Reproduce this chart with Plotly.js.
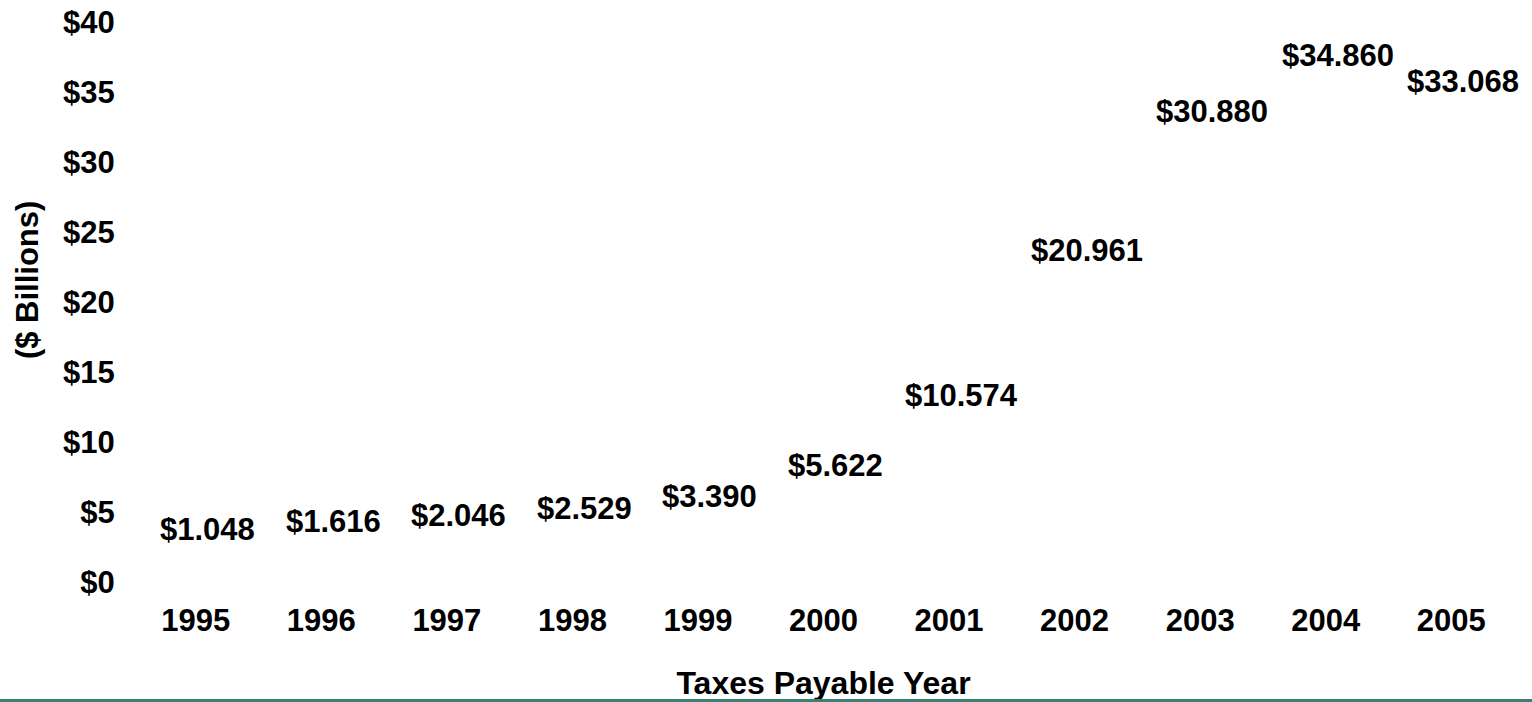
<!DOCTYPE html>
<html>
<head>
<meta charset="utf-8">
<script src="https://cdn.plot.ly/plotly-3.0.1.min.js"></script>
<style>
  html, body { margin: 0; padding: 0; background: #ffffff; }
  #chart { width: 1532px; height: 702px; position: relative; }
  #bottomline { position: absolute; left: 0; top: 699px; width: 1532px; height: 3px; background: #3d7f76; }
</style>
</head>
<body>
<div id="chart"></div>
<div id="bottomline"></div>
<script>
// Data
const years = ['1995','1996','1997','1998','1999','2000','2001','2002','2003','2004','2005'];
const revenue = [1.048, 1.616, 2.046, 2.529, 3.390, 5.622, 10.574, 20.961, 30.880, 34.860, 33.068];
const labels = ['$1.048','$1.616','$2.046','$2.529','$3.390','$5.622','$10.574','$20.961','$30.880','$34.860','$33.068'];
const yTickVals = [0, 5, 10, 15, 20, 25, 30, 35, 40];
const yTickText = ['$0','$5','$10','$15','$20','$25','$30','$35','$40'];

const FONT = 'Arial, "Liberation Sans", sans-serif';

const trace = {
  type: 'bar',
  x: years,
  y: revenue,
  marker: { color: 'rgba(255,255,255,0)' },
  hoverinfo: 'skip',
  showlegend: false
};

// category axis: annotation x given as the category's serial index
const valueAnnotations = years.map((yr, i) => ({
  x: i,
  y: revenue[i],
  xref: 'x',
  yref: 'y',
  text: labels[i],
  showarrow: false,
  xanchor: 'center',
  yanchor: 'middle',
  xshift: 12,
  yshift: 38,
  font: { family: FONT, size: 31, color: '#000000', weight: 'bold' }
}));

const layout = {
  width: 1532,
  height: 702,
  margin: { l: 133, r: 18, t: 22, b: 120 },
  paper_bgcolor: '#ffffff',
  plot_bgcolor: '#ffffff',
  font: { family: FONT, color: '#000000' },
  bargap: 0.3,
  xaxis: {
    type: 'category',
    range: [-0.5, 10.5],
    showgrid: false,
    zeroline: false,
    showline: false,
    ticks: 'outside',
    ticklen: 11,
    tickcolor: 'rgba(0,0,0,0)',
    tickfont: { family: FONT, size: 31, color: '#000000', weight: 'bold' },
    title: {
      text: 'Taxes Payable Year',
      font: { family: FONT, size: 32, color: '#000000', weight: 'bold' },
      standoff: 34
    },
    automargin: false,
    fixedrange: true
  },
  yaxis: {
    range: [0, 40],
    tickvals: yTickVals,
    ticktext: yTickText,
    showgrid: false,
    zeroline: false,
    showline: false,
    ticks: 'outside',
    ticklen: 11,
    tickcolor: 'rgba(0,0,0,0)',
    tickfont: { family: FONT, size: 31, color: '#000000', weight: 'bold' },
    automargin: false,
    fixedrange: true
  },
  annotations: valueAnnotations.concat([{
    xref: 'paper',
    yref: 'paper',
    x: -0.0768,
    y: 0.539,
    text: '($ Billions)',
    textangle: -90,
    showarrow: false,
    xanchor: 'center',
    yanchor: 'middle',
    font: { family: FONT, size: 31, color: '#000000', weight: 'bold' }
  }])
};

Plotly.newPlot('chart', [trace], layout, { displayModeBar: false, staticPlot: true });
</script>
</body>
</html>
